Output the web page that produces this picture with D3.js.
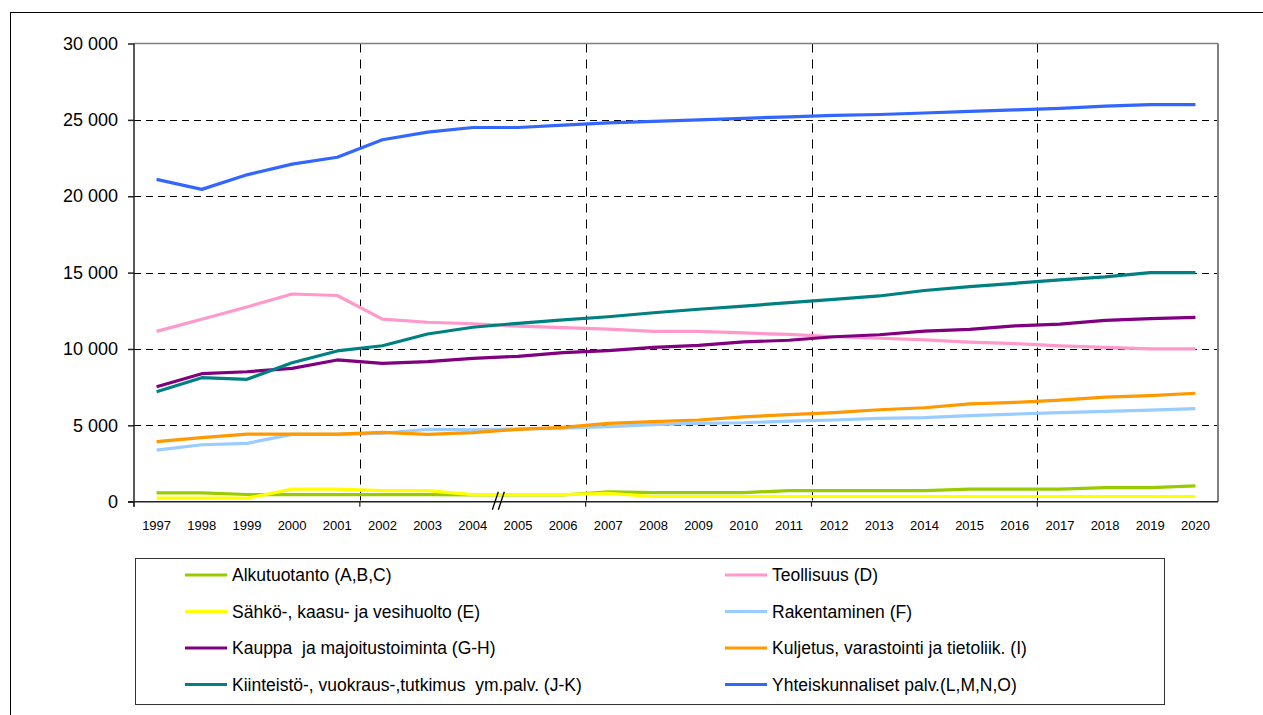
<!DOCTYPE html>
<html>
<head>
<meta charset="utf-8">
<script src="https://cdn.jsdelivr.net/npm/d3@7"></script>
<style>
  html, body { margin: 0; padding: 0; background: #fff; }
  svg { display: block; font-family: "Liberation Sans", Arial, sans-serif; }
  .leg text { white-space: pre; }
</style>
</head>
<body>
<svg id="chart" width="1263" height="715"></svg>
<script>
const years = ['1997','1998','1999','2000','2001','2002','2003','2004','2005','2006','2007','2008','2009','2010','2011','2012','2013','2014','2015','2016','2017','2018','2019','2020'];
const yTicks = [0, 5000, 10000, 15000, 20000, 25000, 30000];

const alkutuotanto = [580, 580, 470, 460, 460, 460, 460, 450, 440, 440, 650, 600, 600, 600, 720, 720, 720, 720, 820, 820, 820, 920, 920, 1030];
const teollisuus   = [11150, 11950, 12750, 13600, 13500, 11950, 11750, 11650, 11500, 11400, 11300, 11150, 11150, 11050, 10950, 10800, 10700, 10600, 10450, 10350, 10200, 10100, 10000, 10000];
const sahko        = [230, 230, 230, 820, 820, 720, 720, 460, 460, 460, 540, 340, 340, 340, 340, 340, 340, 340, 340, 340, 340, 340, 340, 340];
const rakentaminen = [3380, 3730, 3820, 4410, 4410, 4480, 4740, 4700, 4760, 4810, 4910, 5040, 5130, 5170, 5280, 5350, 5450, 5500, 5630, 5740, 5830, 5920, 6000, 6100];
const kauppa       = [7530, 8380, 8510, 8730, 9280, 9060, 9170, 9390, 9520, 9760, 9890, 10110, 10240, 10460, 10570, 10800, 10930, 11170, 11280, 11510, 11630, 11870, 11990, 12070];
const kuljetus     = [3930, 4190, 4430, 4430, 4430, 4540, 4410, 4520, 4740, 4870, 5130, 5240, 5350, 5560, 5700, 5830, 6020, 6150, 6400, 6500, 6650, 6850, 6950, 7100];
const kiinteisto   = [7200, 8120, 8010, 9100, 9870, 10210, 10980, 11420, 11680, 11900, 12110, 12370, 12600, 12810, 13030, 13250, 13470, 13830, 14080, 14300, 14520, 14720, 15000, 15000];
const yhteiskunta  = [21100, 20450, 21400, 22100, 22550, 23700, 24200, 24500, 24500, 24650, 24800, 24900, 25000, 25100, 25200, 25300, 25350, 25450, 25550, 25650, 25750, 25900, 26000, 26000];

const seriesNames = [
  'Alkutuotanto (A,B,C)', 'Teollisuus (D)',
  'Sähkö-, kaasu- ja vesihuolto (E)', 'Rakentaminen (F)',
  'Kauppa  ja majoitustoiminta (G-H)', 'Kuljetus, varastointi ja tietoliik. (I)',
  'Kiinteistö-, vuokraus-,tutkimus  ym.palv. (J-K)', 'Yhteiskunnaliset palv.(L,M,N,O)'
];
const seriesValues = [alkutuotanto, teollisuus, sahko, rakentaminen, kauppa, kuljetus, kiinteisto, yhteiskunta];
const seriesColors = ['#99CC00', '#FF99CC', '#FFFF00', '#99CCFF', '#800080', '#FF9900', '#008080', '#3366FF'];

const svg = d3.select('#chart');

// outer chart border
svg.append('rect').attr('x', 10.5).attr('y', 12.5).attr('width', 1400).attr('height', 900)
  .attr('fill', 'none').attr('stroke', '#000').attr('stroke-width', 1);

const plot = {left: 134, right: 1218, top: 43.5, bottom: 501.7};
const x = d3.scaleBand().domain(years).range([plot.left, plot.right]);
const y = d3.scaleLinear().domain([0, 30000]).range([plot.bottom, plot.top]);

// horizontal gridlines
svg.append('g').selectAll('line').data(yTicks.filter(v => v > 0 && v < 30000)).join('line')
  .attr('x1', plot.left).attr('x2', plot.right)
  .attr('y1', d => Math.round(y(d)) + 0.5).attr('y2', d => Math.round(y(d)) + 0.5)
  .attr('stroke', '#000').attr('stroke-width', 1).attr('stroke-dasharray', '7,5');

// vertical gridlines every 5 categories
const boundaries = [5, 10, 15, 20].map(i => x(years[i]));
svg.append('g').selectAll('line').data(boundaries).join('line')
  .attr('x1', d => Math.round(d) + 0.5).attr('x2', d => Math.round(d) + 0.5)
  .attr('y1', plot.top).attr('y2', plot.bottom + 5)
  .attr('stroke', '#000').attr('stroke-width', 1).attr('stroke-dasharray', '9,7');

// plot top & right border (grey)
svg.append('line').attr('x1', plot.left).attr('x2', plot.right).attr('y1', y(30000)).attr('y2', y(30000))
  .attr('stroke', '#808080').attr('stroke-width', 1.5);
svg.append('line').attr('x1', plot.right).attr('x2', plot.right).attr('y1', y(30000)).attr('y2', plot.bottom)
  .attr('stroke', '#808080').attr('stroke-width', 2);

// lines
const line = d3.line().x((d, i) => x(years[i]) + x.bandwidth() / 2).y(d => y(d));
svg.append('g').selectAll('path').data(seriesValues).join('path')
  .attr('d', d => line(d))
  .attr('fill', 'none')
  .attr('stroke', (d, i) => seriesColors[i])
  .attr('stroke-width', 3.2)
  .attr('stroke-linejoin', 'round');

// Y axis
const locale = d3.formatLocale({decimal: ',', thousands: '\u00a0', grouping: [3], currency: ['', '']});
const fmt = locale.format(',');
const yAxis = svg.append('g').attr('transform', `translate(${plot.left},0)`)
  .call(d3.axisLeft(y).tickValues(yTicks).tickSize(6).tickPadding(10).tickFormat(d => fmt(d)));
yAxis.select('.domain').remove();
yAxis.selectAll('.tick line').attr('stroke', '#222').attr('stroke-width', 1.5);
yAxis.selectAll('text').attr('font-size', 18).attr('fill', '#000')
  .attr('font-family', '"Liberation Sans", Arial, sans-serif');
svg.append('line').attr('x1', plot.left).attr('x2', plot.left).attr('y1', plot.top).attr('y2', plot.bottom + 5)
  .attr('stroke', '#222').attr('stroke-width', 1.5);

// X axis
const xAxis = svg.append('g').attr('transform', `translate(0,${plot.bottom})`)
  .call(d3.axisBottom(x).tickSize(0).tickPadding(19));
xAxis.select('.domain').remove();
xAxis.selectAll('text').attr('font-size', 13).attr('fill', '#000')
  .attr('font-family', '"Liberation Sans", Arial, sans-serif');
svg.append('line').attr('x1', plot.left - 6).attr('x2', plot.right).attr('y1', plot.bottom).attr('y2', plot.bottom)
  .attr('stroke', '#222').attr('stroke-width', 1.5);
// x ticks every 5 categories
svg.append('g').selectAll('line').data([0, 5, 10, 15, 20].map(i => x(years[i]))).join('line')
  .attr('x1', d => d).attr('x2', d => d).attr('y1', plot.bottom).attr('y2', plot.bottom + 5)
  .attr('stroke', '#222').attr('stroke-width', 1.2);

// axis break mark between 2004 and 2005
const bx = x(years[8]) + 3;
[-3, 3].forEach(off => {
  svg.append('line')
    .attr('x1', bx + off - 3).attr('y1', plot.bottom + 8)
    .attr('x2', bx + off + 3).attr('y2', plot.bottom - 10)
    .attr('stroke', '#000').attr('stroke-width', 1.3);
});

// legend
svg.append('rect').attr('x', 135.5).attr('y', 558.5).attr('width', 1029).attr('height', 146)
  .attr('fill', '#fff').attr('stroke', '#333').attr('stroke-width', 1);
const leg = svg.append('g').attr('class', 'leg');
const rowY = [575, 611.5, 648, 684.5];
seriesNames.forEach((name, i) => {
  const col = i % 2, row = Math.floor(i / 2);
  const lx = col === 0 ? 185 : 725;
  const g = leg.append('g');
  g.append('line').attr('x1', lx).attr('x2', lx + 42).attr('y1', rowY[row]).attr('y2', rowY[row])
    .attr('stroke', seriesColors[i]).attr('stroke-width', 3.2);
  g.append('text').attr('x', lx + 47).attr('y', rowY[row]).attr('dy', '0.36em')
    .attr('font-size', 17.5).attr('fill', '#000').text(name);
});
</script>
</body>
</html>
